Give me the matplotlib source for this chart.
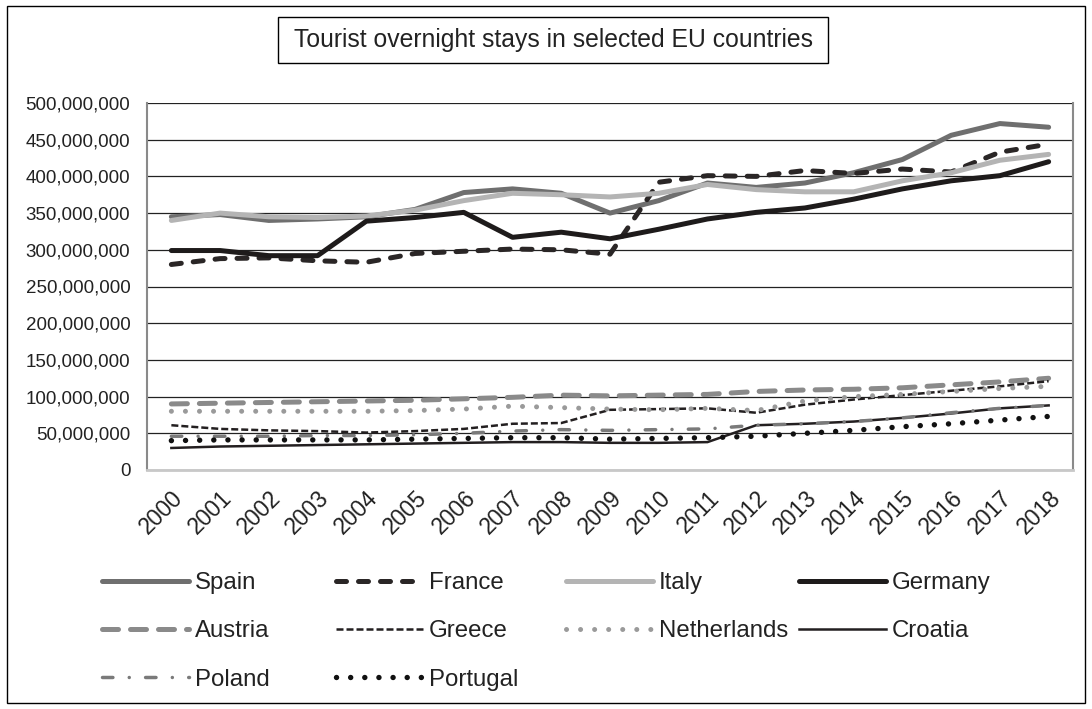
import matplotlib
matplotlib.use("Agg")
import matplotlib.pyplot as plt
from matplotlib.patches import Rectangle
from matplotlib.ticker import FuncFormatter

plt.rcParams['font.family'] = ['Liberation Sans', 'DejaVu Sans']

years = [str(y) for y in range(2000, 2019)]

# overnight stays, millions
spain = [345, 348, 340, 342, 345, 355, 378, 383, 377, 350, 367, 391, 385, 391, 405, 423, 456, 472, 467]
france = [280, 288, 289, 285, 283, 295, 298, 301, 300, 294, 392, 401, 400, 408, 404, 410, 406, 433, 444]
italy = [340, 350, 345, 344, 346, 354, 367, 377, 375, 372, 377, 389, 382, 379, 379, 394, 405, 422, 430]
germany = [299, 299, 292, 292, 339, 344, 351, 317, 324, 315, 328, 342, 351, 357, 369, 383, 394, 401, 420]
austria = [90, 91, 92, 93, 94, 95, 97, 99, 102, 101, 102, 103, 107, 109, 110, 112, 116, 120, 125]
greece = [61, 56, 54, 53, 51, 53, 56, 63, 64, 82, 83, 84, 78, 89, 96, 102, 108, 114, 121]
netherlands = [80, 80, 80, 80, 80, 81, 83, 87, 85, 83, 82, 84, 81, 94, 100, 103, 107, 111, 114]
croatia = [30, 32, 33, 34, 35, 36, 37, 38, 38, 37, 37, 38, 61, 63, 66, 71, 77, 84, 88]
poland = [46, 46, 46, 47, 47, 48, 50, 53, 55, 54, 55, 56, 61, 63, 66, 71, 78, 84, 88]
portugal = [40, 41, 41, 41, 41, 42, 43, 44, 44, 42, 43, 44, 46, 50, 54, 59, 63, 68, 73]

W, H = 1092, 709
fig = plt.figure(figsize=(W / 100, H / 100), dpi=100)
ax = fig.add_axes([147 / W, 1 - 470 / H, (1073 - 147) / W, (470 - 103) / H])

x = list(range(len(years)))
def m(v):
    return [a * 1e6 for a in v]

ax.plot(x, m(spain), color="#6f6f6f", lw=3.6, solid_capstyle="round", label="Spain")
ax.plot(x, m(france), color="#2a2626", lw=3.6, dashes=(2, 2.4), dash_capstyle="round", label="France")
ax.plot(x, m(italy), color="#b4b4b4", lw=3.6, solid_capstyle="round", label="Italy")
ax.plot(x, m(germany), color="#1e1b1b", lw=3.6, solid_capstyle="round", label="Germany")
ax.plot(x, m(austria), color="#8a8a8a", lw=3.6, dashes=(3.2, 2.4), dash_capstyle="round", label="Austria")
ax.plot(x, m(greece), color="#231f20", lw=1.8, dashes=(2.8, 1.2), label="Greece")
ax.plot(x, m(netherlands), color="#9a9a9a", lw=3.6, dashes=(0.01, 2.8), dash_capstyle="round", label="Netherlands")
ax.plot(x, m(croatia), color="#231f20", lw=1.8, label="Croatia")
ax.plot(x, m(poland), color="#7a7a7a", lw=2.5, dashes=(3, 4.7, 0.01, 4.7), dash_capstyle="round", label="Poland")
ax.plot(x, m(portugal), color="#111111", lw=3.9, dashes=(0.01, 2.6), dash_capstyle="round", label="Portugal")

ax.set_xlim(-0.5, len(years) - 0.5)
ax.set_ylim(0, 5e8)
ax.set_yticks([i * 5e7 for i in range(11)])
ax.yaxis.set_major_formatter(FuncFormatter(lambda v, p: f"{int(v):,}"))
ax.set_xticks(x)
ax.set_xticklabels(years, rotation=45, ha="right", va="top", rotation_mode="anchor")
ax.tick_params(axis="y", length=0, pad=12, labelsize=13.5, colors="#222222")
ax.tick_params(axis="x", length=0, pad=12, labelsize=16.5, colors="#222222")
ax.grid(axis="y", color="#222222", lw=0.9)
ax.set_axisbelow(True)
ax.spines["top"].set_visible(False)
ax.spines["left"].set_color("#8a8a8a")
ax.spines["left"].set_linewidth(1.5)
ax.spines["right"].set_color("#8a8a8a")
ax.spines["right"].set_linewidth(1.5)
ax.spines["bottom"].set_color("#c8c8c8")
ax.spines["bottom"].set_linewidth(2)

# chart border and title box
fig.add_artist(Rectangle((7 / W, 1 - 703 / H), (1085 - 7) / W, (703 - 6) / H,
                         transform=fig.transFigure, fill=False, ec="black", lw=1))
fig.add_artist(Rectangle((278 / W, 1 - 63 / H), (828 - 278) / W, 46 / H,
                         transform=fig.transFigure, fill=False, ec="black", lw=1))
fig.text(553 / W, 1 - 40 / H, "Tourist overnight stays in selected EU countries",
         ha="center", va="center", fontsize=17.8, color="#222222")

# legend: four columns placed like the original
lines = {l.get_label(): l for l in ax.get_lines()}
columns = [["Spain", "Austria", "Poland"], ["France", "Greece", "Portugal"],
           ["Italy", "Netherlands"], ["Germany", "Croatia"]]
col_x = [102, 336, 566, 799]
for names, cx in zip(columns, col_x):
    fig.legend([lines[n] for n in names], names, loc="upper left",
               bbox_to_anchor=(cx / W, 1 - 572 / H), bbox_transform=fig.transFigure,
               frameon=False, fontsize=17.3, handlelength=3.6, handletextpad=0.25,
               labelspacing=1.1, borderpad=0, borderaxespad=0, labelcolor="#222222")

fig.savefig("out.png", dpi=100)
